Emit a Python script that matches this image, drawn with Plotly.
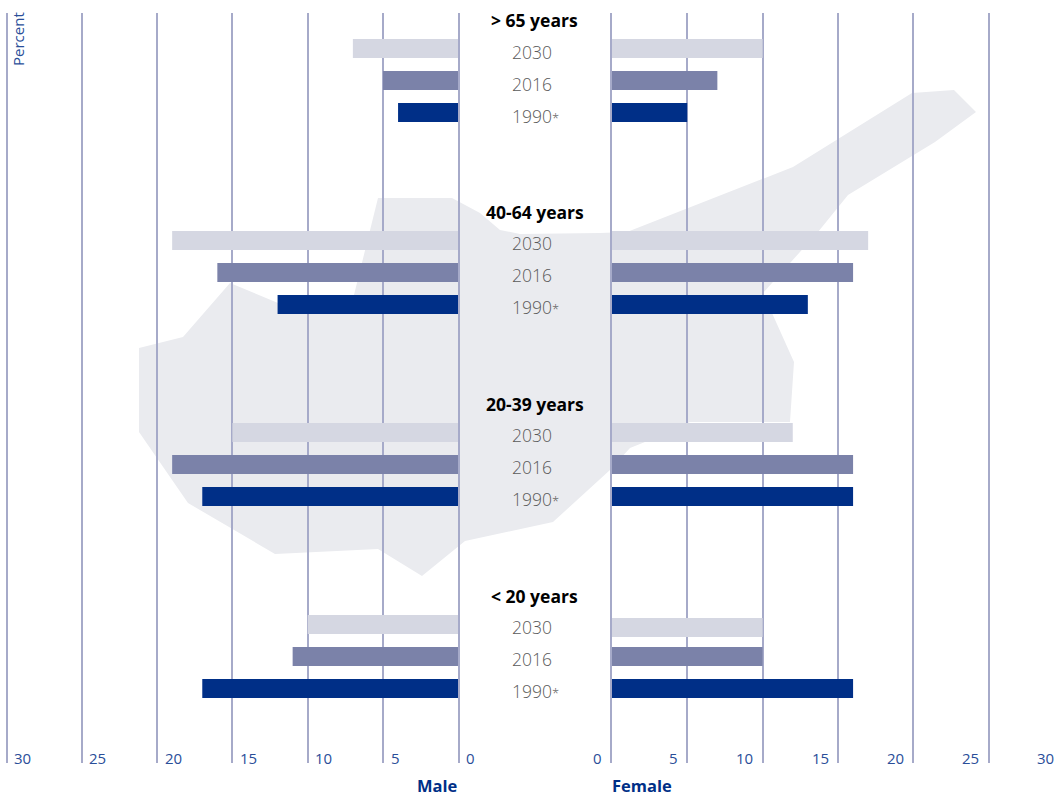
import plotly.graph_objects as go

W, H = 1060, 797

groups = ["> 65 years", "40-64 years", "20-39 years", "< 20 years"]
years = ["2030", "2016", "1990"]
year_labels = {"2030": "2030", "2016": "2016", "1990": "1990<span style='font-size:13px'>*</span>"}

male_2030 = [7, 19, 15, 10]
male_2016 = [5, 16, 19, 11]
male_1990 = [4, 12, 17, 17]
female_2030 = [10, 17, 12, 10]
female_2016 = [7, 16, 16, 10]
female_1990 = [5, 13, 16, 16]

ticks = [0, 5, 10, 15, 20, 25, 30]

colors = {"2030": "#d5d7e2", "2016": "#7b82a9", "1990": "#002f87"}
GRID = "#a6aac9"
NAVY = "#002f87"
FONT = "Open Sans"

# silhouette backdrop, page pixels
island = [(139, 348), (183, 337), (230, 283), (278, 303), (354, 295), (378, 198), (452, 198), (480, 213),
          (500, 230), (520, 234), (600, 233), (627, 232), (793, 167), (912, 93), (954, 90), (976, 112),
          (935, 142), (848, 195), (818, 232), (763, 293), (772, 313), (794, 362), (790, 422), (690, 422),
          (645, 442), (630, 448), (610, 470), (553, 522), (465, 541), (422, 576), (378, 549), (275, 554),
          (188, 503), (139, 432)]

rows = []
for g in groups:
    rows += [g] + [f"{g} {y}" for y in years] + [f"{g} gap1", f"{g} gap2"]

male = {"2030": male_2030, "2016": male_2016, "1990": male_1990}
female = {"2030": female_2030, "2016": female_2016, "1990": female_1990}

BAR = 0.594
fig = go.Figure()
for y in years:
    ycats = [f"{g} {y}" for g in groups]
    fig.add_trace(go.Bar(x=male[y], y=ycats, orientation="h", width=BAR, marker=dict(color=colors[y], line_width=0),
                         xaxis="x", yaxis="y", name=f"Male {y}", showlegend=False))
    off = [-BAR / 2] * 4
    if y == "2030":
        off[3] += 0.094
    fig.add_trace(go.Bar(x=female[y], y=ycats, orientation="h", width=BAR, offset=off,
                         marker=dict(color=colors[y], line_width=0),
                         xaxis="x2", yaxis="y2", name=f"Female {y}", showlegend=False))

ann = []
for g in groups:
    ann.append(dict(x=534.5 / W, xref="paper", y=g, yref="y", yshift=-3.5, text=f"<b>{g}</b>", showarrow=False,
                    font=dict(family=FONT, size=17.5, color="#000000")))
    for y in years:
        ann.append(dict(x=(535 if y == "1990" else 532) / W, xref="paper", y=f"{g} {y}", yref="y", yshift=-3,
                        text=year_labels[y], showarrow=False,
                        font=dict(family=FONT, size=17.5, color="#5a5a5a", weight=300)))

tick_y = 1 - 758 / H
tick_font = dict(family=FONT, size=15, color="#2a4e99", weight=400)
for t in ticks:
    ann.append(dict(x=t, xref="x", xanchor="left", xshift=5.5, y=tick_y, yref="paper", yanchor="middle", text=str(t),
                    showarrow=False, font=tick_font))
    if t < 30:
        ann.append(dict(x=t, xref="x2", xanchor="right", xshift=-7.5, y=tick_y, yref="paper", yanchor="middle",
                        text=str(t), showarrow=False, font=tick_font))
    else:
        ann.append(dict(x=1055.5 / W, xref="paper", xanchor="right", y=tick_y, yref="paper", yanchor="middle",
                        text=str(t), showarrow=False, font=tick_font))

ann.append(dict(x=460 / W, xref="paper", xanchor="right", y=1 - 785.5 / H, yref="paper", yanchor="middle",
                text="<b>Male</b>", showarrow=False, font=dict(family=FONT, size=16.5, color=NAVY)))
ann.append(dict(x=610 / W, xref="paper", xanchor="left", y=1 - 785.5 / H, yref="paper", yanchor="middle",
                text="<b>Female</b>", showarrow=False, font=dict(family=FONT, size=16.5, color=NAVY)))
ann.append(dict(x=18.5 / W, xref="paper", xanchor="center", y=1 - 39.5 / H, yref="paper", yanchor="middle",
                text="Percent", textangle=-90, showarrow=False,
                font=dict(family=FONT, size=15, color="#2a4e99", weight=400)))

path = "M " + " L ".join(f"{x / W:.5f},{1 - y / H:.5f}" for x, y in island) + " Z"

x_common = dict(tickmode="array", tickvals=ticks, showticklabels=False, ticks="", showgrid=True,
                gridcolor=GRID, gridwidth=1.5, zeroline=False, showline=False, fixedrange=True)
y_common = dict(type="category", categoryorder="array", categoryarray=rows, range=[23.33, -0.11],
                domain=[1 - 763 / H, 1 - 13 / H], showticklabels=False, ticks="", showgrid=False, zeroline=False,
                showline=True, linecolor=GRID, linewidth=1.5, layer="above traces", fixedrange=True)

SCALE = 15.06
fig.update_layout(
    width=W, height=H, autosize=False, margin=dict(l=0, r=0, t=0, b=0),
    paper_bgcolor="white", plot_bgcolor="rgba(0,0,0,0)",
    barmode="overlay", showlegend=False, font=dict(family=FONT),
    xaxis=dict(domain=[0, 458.3 / W], range=[458.3 / SCALE, 0], anchor="y", **x_common),
    xaxis2=dict(domain=[611.8 / W, 1.0], range=[0, (W - 611.8) / 15.08], anchor="y2", **x_common),
    yaxis=dict(anchor="x", side="right", **y_common),
    yaxis2=dict(anchor="x2", side="left", **y_common),
    annotations=ann,
    shapes=[dict(type="path", path=path, xref="paper", yref="paper", layer="below",
                 fillcolor="#eaebef", line_width=0)],
)

fig.write_html("out.html", config={"displayModeBar": False},
               post_script="document.body.style.margin='0';document.documentElement.style.overflow='hidden';")
